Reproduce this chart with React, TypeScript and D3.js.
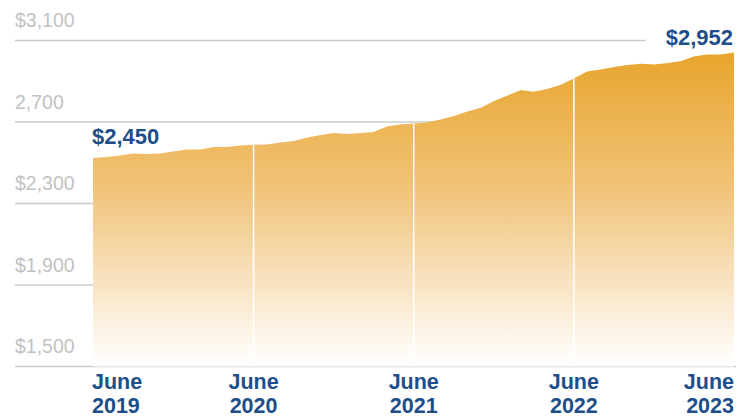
import React, { useRef, useEffect } from 'react';
import * as d3 from 'd3';

// monthly values, June 2019 .. June 2023
const startMonth = new Date(2019, 5, 1);
const values = [
  2523, 2528, 2536, 2545, 2543, 2545, 2555, 2565, 2565, 2577, 2577, 2585,
  2588, 2590, 2599, 2607, 2624, 2636, 2646, 2641, 2646, 2651, 2678, 2688,
  2693, 2698, 2712, 2729, 2752, 2770, 2803, 2830, 2857, 2848, 2862, 2882,
  2913, 2948, 2958, 2970, 2980, 2986, 2982, 2990, 2999, 3021, 3031, 3031,
  3041,
];
const yTicks = [1500, 1900, 2300, 2700, 3100];
const yTickLabels = ['$1,500', '$1,900', '$2,300', '2,700', '$3,100'];
const xTickYears = [2019, 2020, 2021, 2022, 2023];
const xTickLabels = [['June', '2019'], ['June', '2020'], ['June', '2021'], ['June', '2022'], ['June', '2023']];
const startLabel = '$2,450';
const endLabel = '$2,952';

const BLUE = '#1d4e89';
const NARROW = '"Liberation Sans Narrow", "Liberation Sans", sans-serif';

const App = () => {
  const ref = useRef<SVGSVGElement>(null);

  useEffect(() => {
    const svg = d3.select(ref.current);
    svg.selectAll('*').remove();

    const data = values.map((v, i) => ({ date: d3.timeMonth.offset(startMonth, i), value: v }));

    const x = d3.scaleTime()
      .domain([data[0].date, data[data.length - 1].date])
      .range([93, 734]);
    const y = d3.scaleLinear().domain([1500, 3100]).range([366.5, 40.5]);

    const defs = svg.append('defs');
    const grad = defs.append('linearGradient')
      .attr('id', 'fillGrad')
      .attr('gradientUnits', 'userSpaceOnUse')
      .attr('x1', 0).attr('x2', 0)
      .attr('y1', 50).attr('y2', 364);
    grad.append('stop').attr('offset', 0).attr('stop-color', '#e8a42b');
    grad.append('stop').attr('offset', 0.45).attr('stop-color', '#f1c47b');
    grad.append('stop').attr('offset', 1).attr('stop-color', '#ffffff');

    // gridlines
    svg.append('g')
      .selectAll('line')
      .data(yTicks.slice(1))
      .join('line')
      .attr('x1', 15)
      .attr('x2', 646)
      .attr('y1', d => y(d))
      .attr('y2', d => y(d))
      .attr('stroke', '#cccccc')
      .attr('stroke-width', 1.5);

    svg.append('line')
      .attr('x1', 15).attr('x2', 736)
      .attr('y1', y(1500)).attr('y2', y(1500))
      .attr('stroke', '#cccccc')
      .attr('stroke-width', 1.5);

    svg.append('g')
      .selectAll('text')
      .data(yTicks)
      .join('text')
      .attr('x', 15)
      .attr('y', d => y(d) - 13.5)
      .attr('font-family', NARROW)
      .attr('font-size', 19.5)
      .attr('fill', '#c2c2c2')
      .text((d, i) => yTickLabels[i]);

    const area = d3.area<{ date: Date; value: number }>()
      .x(d => x(d.date))
      .y0(y(1500))
      .y1(d => y(d.value));

    svg.append('path')
      .datum(data)
      .attr('d', area)
      .attr('fill', 'url(#fillGrad)');

    // year separators inside the area
    const sep = data.filter((d, i) => i > 0 && i < data.length - 1 && d.date.getMonth() === 5);
    svg.append('g')
      .selectAll('line')
      .data(sep)
      .join('line')
      .attr('x1', d => x(d.date))
      .attr('x2', d => x(d.date))
      .attr('y1', d => y(d.value))
      .attr('y2', y(1500))
      .attr('stroke', '#ffffff')
      .attr('stroke-width', 1.5);

    // x labels
    const xl = svg.append('g')
      .attr('font-family', NARROW)
      .attr('font-weight', 700)
      .attr('font-size', 21.5)
      .attr('fill', BLUE);
    xTickYears.forEach((yr, i) => {
      const px = x(new Date(yr, 5, 1));
      const anchor = i === 0 ? 'start' : i === xTickYears.length - 1 ? 'end' : 'middle';
      const tx = i === 0 ? px - 1 : px;
      xl.append('text')
        .attr('text-anchor', anchor)
        .attr('x', tx)
        .attr('y', 388.5)
        .text(xTickLabels[i][0]);
      xl.append('text')
        .attr('text-anchor', anchor)
        .attr('x', tx)
        .attr('y', 412.5)
        .text(xTickLabels[i][1]);
    });

    // start / end annotations
    const ann = svg.append('g')
      .attr('font-family', NARROW)
      .attr('font-weight', 700)
      .attr('font-size', 22)
      .attr('fill', BLUE);
    ann.append('text')
      .attr('x', x(data[0].date) - 1)
      .attr('y', 144)
      .text(startLabel);
    ann.append('text')
      .attr('x', x(data[data.length - 1].date) - 1)
      .attr('y', 45)
      .attr('text-anchor', 'end')
      .text(endLabel);
  }, []);

  return (
    <svg
      ref={ref}
      width={751}
      height={417}
      style={{ position: 'absolute', left: 0, top: 0, background: '#ffffff' }}
    />
  );
};

export default App;
